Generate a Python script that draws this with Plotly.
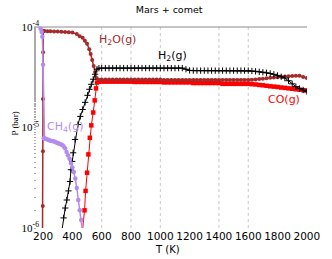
import math
import plotly.graph_objects as go

# ---------------- data ----------------
T_hi = [600, 625, 650, 675, 700, 725, 750, 775, 800, 825, 850, 875, 900, 925, 950, 975,
        1000, 1025, 1050, 1075, 1100, 1125, 1150, 1175, 1200, 1225, 1250, 1275, 1300,
        1325, 1350, 1375, 1400, 1425, 1450, 1475, 1500, 1525, 1550, 1575, 1600, 1625,
        1650, 1675, 1700, 1725, 1750, 1775, 1800, 1825, 1850, 1875, 1900, 1925, 1950,
        1975, 2000]

# H2O(g)
h2o_T_lo = [195, 198, 199, 199.5, 200, 201, 210, 230, 250, 275, 300, 325, 350, 375, 400,
            430, 450, 470, 485, 500, 515, 525, 535, 545, 555, 565, 580]
h2o_P_lo = [3e-7, 1.66e-6, 5.8e-6, 1.92e-5, 5.6e-5, 9.1e-5, 9.1e-5, 9.08e-5, 9.05e-5,
            9.02e-5, 9.0e-5, 8.95e-5, 8.9e-5, 8.85e-5, 8.8e-5, 8.5e-5, 8.1e-5, 7.8e-5,
            7.3e-5, 6.8e-5, 6.0e-5, 5.4e-5, 4.7e-5, 4.1e-5, 3.56e-5, 3.11e-5, 2.98e-5]
h2o_P_hi = [3.0e-5, 3.0e-5, 3.0e-5, 3.0e-5, 3.0e-5, 3.0e-5, 3.0e-5, 3.0e-5, 3.0e-5,
            3.0e-5, 3.0e-5, 3.0e-5, 3.0e-5, 3.0e-5, 3.0e-5, 3.0e-5, 3.0e-5, 2.97e-5,
            2.97e-5, 2.97e-5, 2.97e-5, 2.97e-5, 2.97e-5, 2.97e-5, 2.97e-5, 2.97e-5,
            2.97e-5, 2.97e-5, 2.97e-5, 2.97e-5, 2.97e-5, 2.97e-5, 2.97e-5, 2.97e-5,
            2.97e-5, 2.97e-5, 2.97e-5, 2.97e-5, 2.97e-5, 2.97e-5, 2.97e-5, 2.98e-5,
            3.0e-5, 3.03e-5, 3.06e-5, 3.09e-5, 3.12e-5, 3.15e-5, 3.17e-5, 3.19e-5,
            3.21e-5, 3.23e-5, 3.25e-5, 3.28e-5, 3.27e-5, 3.18e-5, 3.1e-5]

# H2(g)
h2_T_lo = [329, 340, 351, 362, 373, 384, 390, 399, 405, 418, 438, 454, 470, 487, 503,
           516, 529, 542, 555, 568, 581]
h2_P_lo = [9.5e-7, 1.26e-6, 1.58e-6, 1.9e-6, 2.34e-6, 2.9e-6, 3.8e-6, 4.6e-6, 5.6e-6,
           7.6e-6, 1.07e-5, 1.29e-5, 1.51e-5, 1.78e-5, 2.09e-5, 2.4e-5, 2.69e-5,
           3.02e-5, 3.39e-5, 3.8e-5, 3.89e-5]
h2_P_hi = [3.9e-5, 3.9e-5, 3.9e-5, 3.9e-5, 3.9e-5, 3.9e-5, 3.9e-5, 3.9e-5, 3.9e-5,
           3.9e-5, 3.9e-5, 3.9e-5, 3.9e-5, 3.9e-5, 3.9e-5, 3.9e-5, 3.9e-5, 3.9e-5,
           3.9e-5, 3.9e-5, 3.9e-5, 3.9e-5, 3.9e-5, 3.8e-5, 3.7e-5, 3.68e-5, 3.68e-5,
           3.68e-5, 3.68e-5, 3.68e-5, 3.68e-5, 3.68e-5, 3.68e-5, 3.68e-5, 3.68e-5,
           3.68e-5, 3.68e-5, 3.68e-5, 3.68e-5, 3.68e-5, 3.68e-5, 3.65e-5, 3.62e-5,
           3.58e-5, 3.55e-5, 3.5e-5, 3.45e-5, 3.38e-5, 3.3e-5, 3.2e-5, 3.1e-5, 2.92e-5,
           2.72e-5, 2.55e-5, 2.44e-5, 2.36e-5, 2.28e-5]

# CO(g)
co_T_lo = [470, 483, 490, 500, 509, 519, 529, 542, 552, 561, 568, 580]
co_P_lo = [9.8e-7, 1.5e-6, 2.34e-6, 3.55e-6, 5.4e-6, 7.9e-6, 1.05e-5, 1.41e-5, 1.86e-5,
           2.45e-5, 2.8e-5, 2.86e-5]
co_P_hi = [2.86e-5, 2.86e-5, 2.86e-5, 2.86e-5, 2.86e-5, 2.86e-5, 2.86e-5, 2.86e-5,
           2.86e-5, 2.84e-5, 2.84e-5, 2.84e-5, 2.84e-5, 2.84e-5, 2.84e-5, 2.84e-5,
           2.84e-5, 2.81e-5, 2.81e-5, 2.81e-5, 2.81e-5, 2.81e-5, 2.81e-5, 2.81e-5,
           2.81e-5, 2.77e-5, 2.77e-5, 2.77e-5, 2.77e-5, 2.77e-5, 2.77e-5, 2.77e-5,
           2.77e-5, 2.72e-5, 2.72e-5, 2.72e-5, 2.72e-5, 2.72e-5, 2.72e-5, 2.72e-5,
           2.72e-5, 2.7e-5, 2.68e-5, 2.65e-5, 2.63e-5, 2.6e-5, 2.57e-5, 2.55e-5,
           2.53e-5, 2.5e-5, 2.48e-5, 2.45e-5, 2.43e-5, 2.4e-5, 2.38e-5, 2.35e-5, 2.33e-5]

# CH4(g)
ch4_T = [125, 150, 170, 183, 190, 195, 200, 205, 210, 220, 230, 240, 250, 260, 270, 280,
         290, 300, 310, 320, 330, 340, 350, 360, 370, 380, 390, 400, 410, 420, 430, 440,
         450, 460, 468]
ch4_P = [1.02e-4, 1.02e-4, 1.0e-4, 9.6e-5, 8.9e-5, 8.0e-5, 4.2e-5, 7.8e-6, 7.8e-6,
         7.7e-6, 7.6e-6, 7.5e-6, 7.4e-6, 7.35e-6, 7.3e-6, 7.2e-6, 7.1e-6, 7.0e-6, 6.9e-6,
         6.8e-6, 6.7e-6, 6.5e-6, 6.2e-6, 5.7e-6, 5.3e-6, 4.9e-6, 4.4e-6, 4.0e-6, 3.6e-6,
         3.1e-6, 2.5e-6, 1.9e-6, 1.5e-6, 1.2e-6, 9.5e-7]

x_ticks = [200, 400, 600, 800, 1000, 1200, 1400, 1600, 1800, 2000]
y_ticks = [1e-6, 1e-5, 1e-4]
y_tick_text = ["10<sup>-6</sup>", "10<sup>-5</sup>", "10<sup>-4</sup>"]
grid_T = [600, 800, 1000, 1400, 1600]

title_text = "Mars + comet"
x_title = "T (K)"
y_title = "P (bar)"

C_H2O = "#a52a2a"
C_H2 = "#000000"
C_CO = "#ff0000"
C_CH4 = "#b48cf0"

fig = go.Figure()

fig.add_trace(go.Scatter(
    x=co_T_lo + T_hi, y=co_P_lo + co_P_hi, mode="lines+markers",
    line=dict(color=C_CO, width=1),
    marker=dict(symbol="square", size=4.5, color=C_CO),
    showlegend=False))

fig.add_trace(go.Scatter(
    x=h2o_T_lo + T_hi, y=h2o_P_lo + h2o_P_hi, mode="lines+markers",
    line=dict(color=C_H2O, width=1.5),
    marker=dict(symbol="circle", size=4, color=C_H2O),
    showlegend=False))

fig.add_trace(go.Scatter(
    x=h2_T_lo + T_hi, y=h2_P_lo + h2_P_hi, mode="lines+markers",
    line=dict(color=C_H2, width=1),
    marker=dict(symbol="cross-thin", size=4.5, color=C_H2,
                line=dict(color=C_H2, width=1)),
    showlegend=False))

fig.add_trace(go.Scatter(
    x=ch4_T, y=ch4_P, mode="lines+markers", cliponaxis=False,
    line=dict(color=C_CH4, width=1.5),
    marker=dict(symbol="circle", size=4.5, color=C_CH4),
    showlegend=False))

for g in grid_T:
    fig.add_shape(type="line", xref="x", yref="paper", x0=g, x1=g, y0=0, y1=1,
                  line=dict(color="#c8c8c8", width=1, dash="dot"), layer="below")
fig.add_shape(type="line", xref="paper", yref="paper", x0=0, x1=1, y0=1, y1=1,
              line=dict(color="#8a8a8a", width=1), layer="below")

lab_font = dict(family="DejaVu Sans", size=11)
fig.add_annotation(x=705, y=math.log10(7.4e-5), xref="x", yref="y", showarrow=False,
                   text="H<sub>2</sub>O(g)", font=dict(lab_font, color=C_H2O))
fig.add_annotation(x=1083, y=math.log10(5.1e-5), xref="x", yref="y", showarrow=False,
                   text="H<sub>2</sub>(g)", font=dict(lab_font, color=C_H2))
fig.add_annotation(x=1845, y=math.log10(1.88e-5), xref="x", yref="y", showarrow=False,
                   text="CO(g)", font=dict(lab_font, color=C_CO))
fig.add_annotation(x=216, y=math.log10(1.01e-5), xref="x", yref="y", showarrow=False,
                   xanchor="left", text="CH<sub>4</sub>(g)", font=dict(lab_font, color=C_CH4))

fig.add_annotation(x=0.49, y=-0.109, xref="paper", yref="paper", showarrow=False,
                   text=x_title, yanchor="middle",
                   font=dict(family="DejaVu Sans", size=10, color="#000"))
fig.add_annotation(x=-0.095, y=0.52, xref="paper", yref="paper", showarrow=False,
                   text=y_title, textangle=-90,
                   font=dict(family="Liberation Serif", size=9, color="#000"))

fig.update_layout(
    width=332, height=259,
    margin=dict(l=34, r=12, t=27, b=31),
    paper_bgcolor="white", plot_bgcolor="white",
    title=dict(text=title_text, x=0.495, xref="paper", y=1 - 10 / 259, yref="container",
               xanchor="center", yanchor="middle",
               font=dict(family="DejaVu Sans", size=9.5, color="#000")),
    xaxis=dict(range=[138, 2001], tickvals=x_ticks, showgrid=False, zeroline=False,
               showline=False, ticks="", ticklen=0, ticklabeloverflow="allow",
               tickfont=dict(family="DejaVu Sans", size=10.5, color="#000")),
    yaxis=dict(type="log", range=[-6, -4], tickvals=y_ticks, ticktext=y_tick_text,
               showgrid=False, zeroline=False, showline=False, ticks="",
               mirror="ticks", ticklabelstandoff=-6,
               minor=dict(ticks="inside", ticklen=2, tickcolor="#aaa", showgrid=False),
               tickfont=dict(family="Liberation Serif", size=11, color="#000")),
)

fig.write_html("out.html", config={"displayModeBar": False},
               post_script="document.body.style.margin='0';document.body.style.overflow='hidden';")
